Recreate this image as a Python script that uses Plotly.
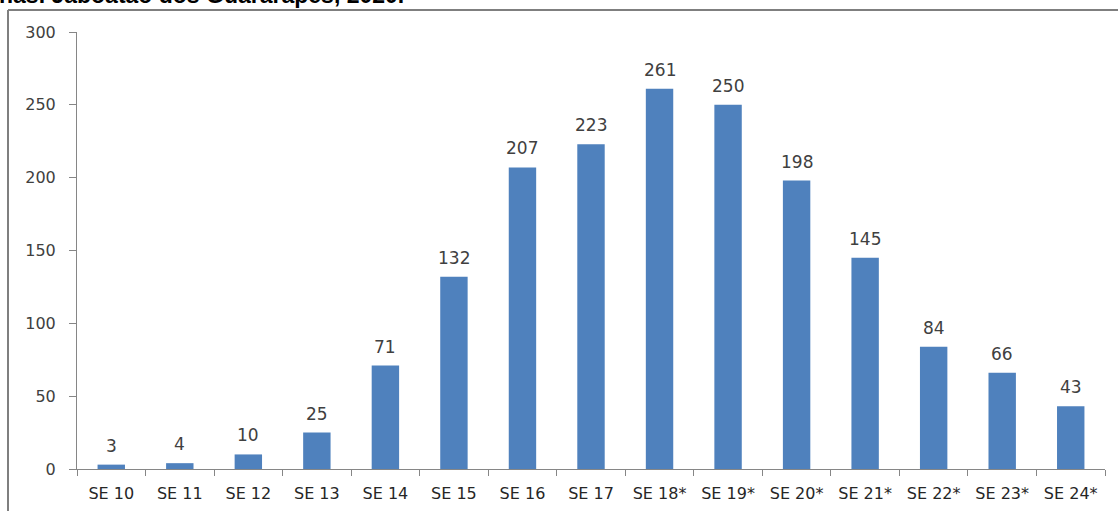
import plotly.graph_objects as go

categories = ["SE 10", "SE 11", "SE 12", "SE 13", "SE 14", "SE 15", "SE 16", "SE 17",
              "SE 18*", "SE 19*", "SE 20*", "SE 21*", "SE 22*", "SE 23*", "SE 24*"]
values = [3, 4, 10, 25, 71, 132, 207, 223, 261, 250, 198, 145, 84, 66, 43]
y_ticks = [0, 50, 100, 150, 200, 250, 300]
title_text = "nas. Jaboatão dos Guararapes, 2020."

W, H = 1118, 511
L, R, T, B = 77, 13, 32, 42
pw, ph = W - L - R, H - T - B

font_family = "DejaVu Sans, Verdana, sans-serif"
text_color = "#404040"
axis_color = "#868686"

fig = go.Figure()
fig.add_trace(go.Bar(
    x=categories, y=values,
    marker=dict(color="#4f81bd", line=dict(width=0)),
    width=0.4,
    hoverinfo="skip",
))

for c, v in zip(categories, values):
    fig.add_annotation(x=c, y=v, xref="x", yref="y", text=str(v), showarrow=False,
                       yanchor="bottom", yshift=7,
                       font=dict(family=font_family, size=17, color=text_color))

# cropped title at the top
fig.add_annotation(x=(405 - L) / pw, y=1 + (T - 9) / ph, xref="paper", yref="paper",
                   xanchor="right", yanchor="bottom", text="<b>" + title_text + "</b>",
                   showarrow=False, borderpad=0,
                   font=dict(family="Liberation Sans, Arial, sans-serif", size=23, color="#000000"))

# frame lines
fx = (8 - L) / pw
fy = 1 + (T - 10) / ph
fig.add_shape(type="line", xref="paper", yref="paper", x0=fx, x1=fx, y0=-0.2, y1=fy,
              line=dict(color="#7f7f7f", width=2))
fig.add_shape(type="line", xref="paper", yref="paper", x0=fx, x1=1.05, y0=fy, y1=fy,
              line=dict(color="#7f7f7f", width=2))

fig.update_layout(
    width=W, height=H,
    margin=dict(l=L, r=R, t=T, b=B, pad=0, autoexpand=False),
    paper_bgcolor="white", plot_bgcolor="white",
    showlegend=False,
    xaxis=dict(
        type="category", automargin=False,
        showline=True, linecolor=axis_color, linewidth=1,
        ticks="outside", tickson="boundaries", ticklen=6, tickcolor=axis_color,
        tickfont=dict(family=font_family, size=16, color="#262626"),
        ticklabelstandoff=10,
        showgrid=False, zeroline=False,
        range=[-0.5, len(categories) - 0.5],
    ),
    yaxis=dict(
        range=[0, 300], tickvals=y_ticks, automargin=False,
        showline=True, linecolor=axis_color, linewidth=1,
        ticks="outside", ticklen=7, tickcolor=axis_color,
        tickfont=dict(family=font_family, size=16, color=text_color),
        showgrid=False, zeroline=False,
        ticklabelstandoff=10,
    ),
)

fig.write_html("out.html", config={"displayModeBar": False})

# remove the default body margin of the page so the figure sits at the window's corner
with open("out.html", encoding="utf-8") as f:
    html = f.read()
html = html.replace("<body>", '<body style="margin:0;overflow:hidden">', 1)
with open("out.html", "w", encoding="utf-8") as f:
    f.write(html)
